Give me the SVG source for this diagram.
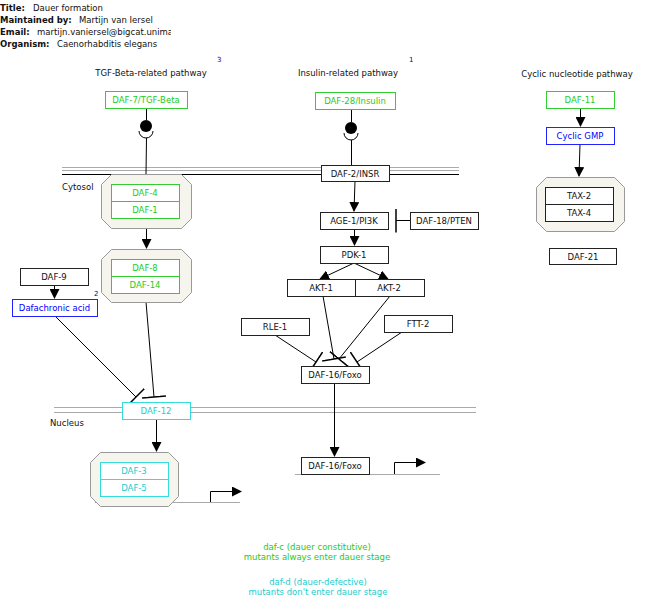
<svg xmlns="http://www.w3.org/2000/svg" width="653" height="615" viewBox="0 0 653 615">
<style>
text{font-family:"DejaVu Sans",sans-serif;font-size:8.5px;fill:#111}
.c{text-anchor:middle}
.b{fill:#fff;stroke:#222;stroke-width:1}
.gb{fill:#fff;stroke:#33cc33;stroke-width:1}
.cb{fill:#fff;stroke:#33dddd;stroke-width:1}
.bb{fill:#fff;stroke:#2222ff;stroke-width:1}
.gt{fill:#22cc22}
.ct{fill:#22cccc}
.bt{fill:#0000ff}
.oct{fill:#f5f5ee;stroke:#999;stroke-width:1}
.ln{stroke:#000;stroke-width:1;fill:none}
.mem{stroke:#aaa;stroke-width:1;fill:none}
.sm{font-size:7px;fill:#000099}
.hd{font-weight:bold}
</style>
<defs>
<marker id="arr" markerWidth="10" markerHeight="10" refX="9" refY="5" orient="auto" markerUnits="userSpaceOnUse"><path d="M0,0L10,5L0,10z" fill="#000"/></marker>
<marker id="tb" markerWidth="4" markerHeight="24" refX="1" refY="12" orient="auto" markerUnits="userSpaceOnUse"><path d="M1,0V24" stroke="#000" stroke-width="1.5"/></marker>
<clipPath id="hc"><rect x="0" y="0" width="171" height="60"/></clipPath>
</defs>
<g id="header" clip-path="url(#hc)">
<text x="0" y="11"><tspan class="hd">Title:</tspan><tspan x="33">Dauer formation</tspan></text>
<text x="0" y="23"><tspan class="hd">Maintained by:</tspan><tspan x="79">Martijn van Iersel</tspan></text>
<text x="0" y="35"><tspan class="hd">Email:</tspan><tspan x="37">martijn.vaniersel@bigcat.unimaas.nl</tspan></text>
<text x="0" y="47"><tspan class="hd">Organism:</tspan><tspan x="57">Caenorhabditis elegans</tspan></text>
</g>
<g id="labels">
<text class="c" x="151" y="76">TGF-Beta-related pathway</text>
<text class="sm" x="217" y="62">3</text>
<text class="c" x="348" y="76">Insulin-related pathway</text>
<text class="sm" x="409" y="62">1</text>
<text class="c" x="577" y="77">Cyclic nucleotide pathway</text>
<text x="62" y="190">Cytosol</text>
<text x="50" y="426">Nucleus</text>
<text class="c gt" x="317" y="550">daf-c (dauer constitutive)</text>
<text class="c gt" x="317" y="560">mutants always enter dauer stage</text>
<text class="c ct" x="318" y="585">daf-d (dauer-defective)</text>
<text class="c ct" x="318" y="595">mutants don't enter dauer stage</text>
</g>
<g id="membranes">
<line class="mem" x1="62" y1="167.5" x2="459" y2="167.5"/>
<line class="mem" x1="62" y1="170.5" x2="459" y2="170.5"/>
<line class="ln" x1="62" y1="174.5" x2="459" y2="174.5"/>
<line class="mem" x1="54" y1="407.5" x2="476" y2="407.5"/>
<line class="mem" x1="54" y1="412.5" x2="476" y2="412.5"/>
<line class="mem" x1="95" y1="502.5" x2="240" y2="502.5"/>
<line class="mem" x1="295" y1="474.5" x2="440" y2="474.5"/>
</g>
<g id="connectors">
<line class="ln" x1="146.5" y1="108" x2="146.5" y2="120"/>
<circle cx="146" cy="126" r="6" fill="#000"/>
<path class="ln" d="M139,131A7,7 0 0 0 153,131"/>
<line class="ln" x1="146.5" y1="138" x2="146" y2="174"/>
<line class="ln" x1="351.5" y1="109" x2="351.5" y2="122"/>
<circle cx="351" cy="128" r="6" fill="#000"/>
<path class="ln" d="M344,133A7,7 0 0 0 358,133"/>
<line class="ln" x1="351.5" y1="140" x2="351.5" y2="165"/>
<line class="ln" x1="146.5" y1="228" x2="146.5" y2="248" marker-end="url(#arr)"/>
<line class="ln" x1="54.5" y1="285" x2="54.5" y2="298" marker-end="url(#arr)"/>
<line class="ln" x1="55" y1="316" x2="136" y2="397" marker-end="url(#tb)"/>
<line class="ln" x1="146" y1="302" x2="154" y2="397" marker-end="url(#tb)"/>
<line class="ln" x1="156.5" y1="419" x2="156.5" y2="451" marker-end="url(#arr)"/>
<path class="ln" d="M210.5,502V491.5H241" marker-end="url(#arr)"/>
<line class="ln" x1="355" y1="181" x2="354" y2="211" marker-end="url(#arr)"/>
<line class="ln" x1="410" y1="220.5" x2="396" y2="220.5" marker-end="url(#tb)"/>
<line class="ln" x1="354.5" y1="229" x2="354.5" y2="245" marker-end="url(#arr)"/>
<line class="ln" x1="354" y1="263" x2="320" y2="279" marker-end="url(#arr)"/>
<line class="ln" x1="354" y1="263" x2="388" y2="279" marker-end="url(#arr)"/>
<line class="ln" x1="323" y1="296" x2="334" y2="359" marker-end="url(#tb)"/>
<line class="ln" x1="390" y1="296" x2="339" y2="359" marker-end="url(#tb)"/>
<line class="ln" x1="275" y1="335" x2="316" y2="362" marker-end="url(#tb)"/>
<line class="ln" x1="402" y1="332" x2="357" y2="362" marker-end="url(#tb)"/>
<line class="ln" x1="334.5" y1="383" x2="334.5" y2="456" marker-end="url(#arr)"/>
<path class="ln" d="M394.5,474V462.5H425" marker-end="url(#arr)"/>
<line class="ln" x1="580.5" y1="108" x2="580.5" y2="126" marker-end="url(#arr)"/>
<line class="ln" x1="580" y1="144" x2="579" y2="176" marker-end="url(#arr)"/>
</g>
<g id="daf7"><rect class="gb" x="105.5" y="91.5" width="82" height="17"/><text class="c gt" x="146" y="103">DAF-7/TGF-Beta</text></g>
<g id="daf28"><rect class="gb" x="315.5" y="92.5" width="80" height="17"/><text class="c gt" x="355" y="104">DAF-28/Insulin</text></g>
<g id="daf11"><rect class="gb" x="546.5" y="91.5" width="68" height="17"/><text class="c gt" x="580" y="103">DAF-11</text></g>
<g id="cgmp"><rect class="bb" x="546.5" y="127.5" width="68" height="17"/><text class="c bt" x="580" y="139">Cyclic GMP</text></g>
<g id="daf2"><rect class="b" x="321.5" y="165.5" width="68" height="16"/><text class="c" x="355" y="177">DAF-2/INSR</text></g>
<g id="c41"><path class="oct" d="M111.5,174.5H181.5L191.5,184.5V218.5L181.5,228.5H111.5L101.5,218.5V184.5Z"/>
<rect class="gb" x="111.5" y="184.5" width="68" height="17"/><text class="c gt" x="145" y="196">DAF-4</text>
<rect class="gb" x="111.5" y="201.5" width="68" height="17"/><text class="c gt" x="145" y="213">DAF-1</text></g>
<g id="c814"><path class="oct" d="M111.5,249.5H181.5L191.5,259.5V292.5L181.5,302.5H111.5L101.5,292.5V259.5Z"/>
<rect class="gb" x="111.5" y="259.5" width="68" height="17"/><text class="c gt" x="145" y="271">DAF-8</text>
<rect class="gb" x="111.5" y="276.5" width="68" height="17"/><text class="c gt" x="145" y="288">DAF-14</text></g>
<g id="daf9"><rect class="b" x="20.5" y="268.5" width="68" height="17"/><text class="c" x="54" y="280">DAF-9</text></g>
<g id="dafa"><rect class="bb" x="12.5" y="299.5" width="85" height="17"/><text class="c bt" x="54.5" y="311">Dafachronic acid</text><text class="sm" x="94" y="296">2</text></g>
<g id="daf12"><rect class="cb" x="122.5" y="402.5" width="68" height="17"/><text class="c ct" x="156" y="414">DAF-12</text></g>
<g id="c35"><path class="oct" d="M100.5,452.5H168.5L178.5,462.5V496.5L168.5,506.5H100.5L90.5,496.5V462.5Z"/>
<rect class="cb" x="100.5" y="462.5" width="68" height="17"/><text class="c ct" x="134" y="474">DAF-3</text>
<rect class="cb" x="100.5" y="479.5" width="68" height="17"/><text class="c ct" x="134" y="491">DAF-5</text></g>
<g id="age1"><rect class="b" x="320.5" y="212.5" width="68" height="17"/><text class="c" x="354" y="224">AGE-1/PI3K</text></g>
<g id="daf18"><rect class="b" x="410.5" y="212.5" width="68" height="17"/><text class="c" x="444" y="224">DAF-18/PTEN</text></g>
<g id="pdk1"><rect class="b" x="320.5" y="246.5" width="68" height="17"/><text class="c" x="354" y="258">PDK-1</text></g>
<g id="akt1"><rect class="b" x="287.5" y="279.5" width="68" height="17"/><text class="c" x="321" y="291">AKT-1</text></g>
<g id="akt2"><rect class="b" x="355.5" y="279.5" width="69" height="17"/><text class="c" x="389" y="291">AKT-2</text></g>
<g id="rle1"><rect class="b" x="241.5" y="318.5" width="68" height="17"/><text class="c" x="275" y="330">RLE-1</text></g>
<g id="ftt2"><rect class="b" x="384.5" y="315.5" width="68" height="17"/><text class="c" x="418" y="327">FTT-2</text></g>
<g id="daf16a"><rect class="b" x="301.5" y="366.5" width="68" height="17"/><text class="c" x="335" y="378">DAF-16/Foxo</text></g>
<g id="daf16b"><rect class="b" x="301.5" y="457.5" width="68" height="17"/><text class="c" x="335" y="469">DAF-16/Foxo</text></g>
<g id="tax"><path class="oct" d="M546.5,177.5H614.5L624.5,187.5V221.5L614.5,231.5H546.5L536.5,221.5V187.5Z"/>
<rect class="b" x="545.5" y="187.5" width="68" height="17"/><text class="c" x="579" y="199">TAX-2</text>
<rect class="b" x="545.5" y="204.5" width="68" height="17"/><text class="c" x="579" y="216">TAX-4</text></g>
<g id="daf21"><rect class="b" x="549.5" y="248.5" width="67" height="16"/><text class="c" x="583" y="260">DAF-21</text></g>
</svg>
